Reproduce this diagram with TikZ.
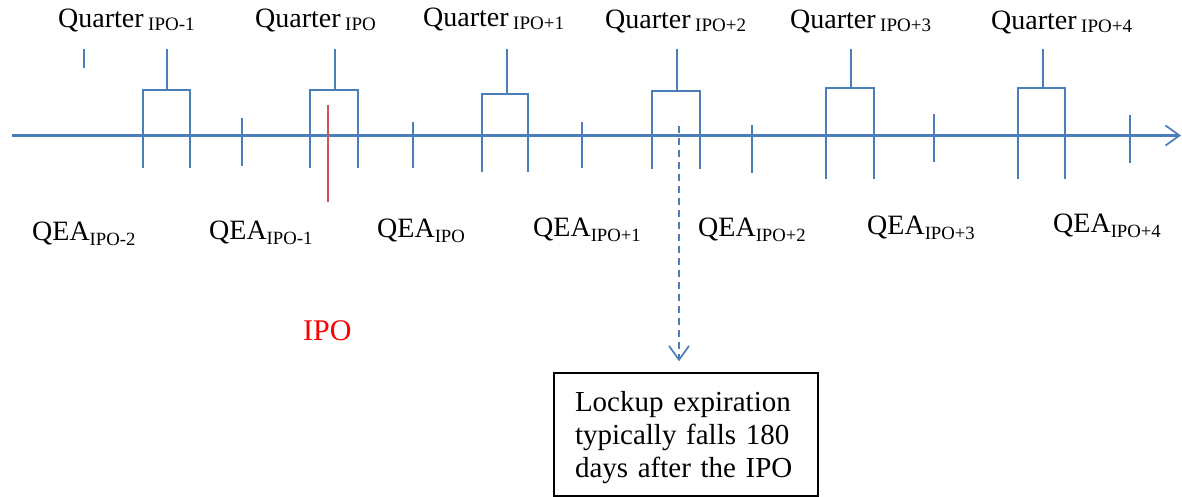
\documentclass[tikz,border=0pt]{standalone}
\usepackage{fontspec}
\setmainfont{Liberation Serif}
\usetikzlibrary{arrows.meta}
\definecolor{axisblue}{RGB}{74,126,187}
\definecolor{linered}{RGB}{205,85,80}
\newcommand\myQ[1]{Quarter\hspace{4.5pt}\raisebox{-2.5pt}{\fontsize{19}{20}\selectfont #1}}
\newcommand\myQEA[1]{QEA\raisebox{-5pt}{\fontsize{18.7}{20}\selectfont #1}}
\begin{document}
\begin{tikzpicture}[x=1pt,y=-1pt,
  blueline/.style={draw=axisblue,line width=2.1pt},
  stemline/.style={draw=axisblue,line width=2.6pt},
  lab/.style={anchor=base west,inner sep=0pt,font=\fontsize{28}{33}\selectfont},
  lockbox/.style={draw=black,line width=1.4pt,align=left,text width=222pt,inner xsep=21pt,inner ysep=0pt,minimum height=123pt,font=\fontsize{29}{33}\selectfont},
  dasharrow/.style={draw=axisblue,line width=2pt,dash pattern=on 7pt off 5pt,-{Straight Barb[length=14pt,width=20pt,line width=1.7pt]}}
]
\useasboundingbox (0,0) rectangle (1182,497);

% axis
\coordinate (axL) at (12,135.5);
\coordinate (axR) at (1181,135.5);
\draw[blueline,-{Straight Barb[length=14pt,width=20pt,line width=1.7pt]}] (axL) -- (axR);

% single ticks
\draw[blueline] (84,49) -- (84,68);
\foreach \x/\a/\b in {242/118/166, 413/122/168, 582/122/168, 752/125/173, 934/114/162, 1130/115/163}
  \draw[blueline] (\x,\a) -- (\x,\b);

% quarter brackets: left, right, centre, top, bottom
\foreach \l/\r/\c/\t/\b in {143/190/167/90/168, 310/358/335/90/168, 482/528/507/94/172, 652/700/677/91/169, 826/874/851/88/179, 1018/1065/1043/88/179}{
  \draw[blueline] (\l,\b) -- (\l,\t) -- (\r,\t) -- (\r,\b);
  \draw[stemline] (\c,49) -- (\c,\t);
}

% IPO marker
\draw[draw=linered,line width=1.9pt] (328,105) -- (328,202);
\node[lab,text=red,font=\fontsize{30}{33}\selectfont] (ipo) at (303,340) {IPO};

% quarter labels
\node[lab] (q1) at (58,28) {\myQ{IPO-1}};
\node[lab] (q2) at (255,28) {\myQ{IPO}};
\node[lab] (q3) at (423,27) {\myQ{IPO+1}};
\node[lab] (q4) at (605,29) {\myQ{IPO+2}};
\node[lab] (q5) at (790,29) {\myQ{IPO+3}};
\node[lab] (q6) at (991,30) {\myQ{IPO+4}};

% QEA labels
\node[lab] (e1) at (32,240) {\myQEA{IPO-2}};
\node[lab] (e2) at (209,239) {\myQEA{IPO-1}};
\node[lab] (e3) at (377,237) {\myQEA{IPO}};
\node[lab] (e4) at (533,236) {\myQEA{IPO+1}};
\node[lab] (e5) at (698,236) {\myQEA{IPO+2}};
\node[lab] (e6) at (867,234) {\myQEA{IPO+3}};
\node[lab] (e7) at (1053,232) {\myQEA{IPO+4}};

% lockup box and arrow
\node[lockbox] (lock) at (686,434.5) {\rule{0pt}{27pt}Lockup expiration\\typically falls 180\\days after the IPO};
\coordinate (lockstart) at (679,126);
\draw[dasharrow,shorten >=11pt] (lockstart) -- (lockstart |- lock.north);
\end{tikzpicture}
\end{document}
